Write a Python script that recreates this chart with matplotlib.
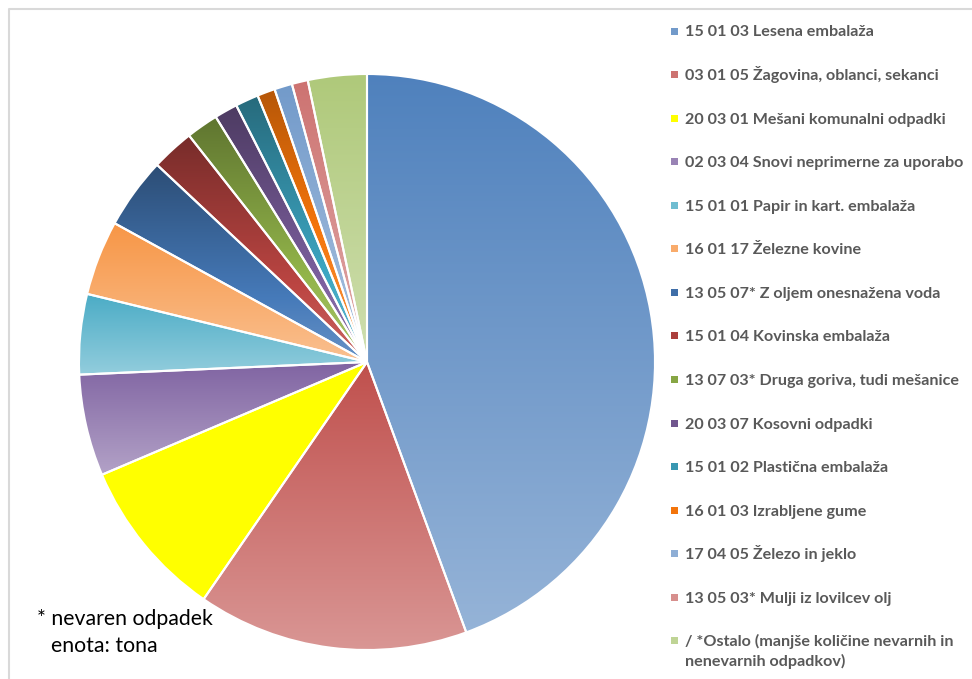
import colorsys
import numpy as np
import matplotlib.pyplot as plt
from matplotlib.colors import to_rgb
from matplotlib.patches import Rectangle
from matplotlib.lines import Line2D

W, H = 972, 679

labels = [
    "15 01 03 Lesena embalaža",
    "03 01 05 Žagovina, oblanci, sekanci",
    "20 03 01 Mešani komunalni odpadki",
    "02 03 04 Snovi neprimerne za uporabo",
    "15 01 01 Papir in kart. embalaža",
    "16 01 17 Železne kovine",
    "13 05 07* Z oljem onesnažena voda",
    "15 01 04 Kovinska embalaža",
    "13 07 03* Druga goriva, tudi mešanice",
    "20 03 07 Kosovni odpadki",
    "15 01 02 Plastična embalaža",
    "16 01 03 Izrabljene gume",
    "17 04 05 Železo in jeklo",
    "13 05 03* Mulji iz lovilcev olj",
    "/ *Ostalo (manjše količine nevarnih in\nnenevarnih odpadkov)",
]
values = [44.4, 15.2, 9.0, 5.7, 4.5, 4.2, 4.0, 2.4, 1.8, 1.3, 1.3, 1.0, 1.0, 0.9, 3.3]
colors = ["#4F81BD", "#C0504D", "#FFFF00", "#8064A2", "#4BACC6", "#F79646",
          "#2C4D75", "#772C2A", "#5F7530", "#4D3B62", "#276A7C", "#B65708",
          "#729ACA", "#CD7371", "#AFC97A"]
flat = [False, False, True] + [False] * 12


def lighten(c, t):
    h, l, s = colorsys.rgb_to_hls(*to_rgb(c))
    return colorsys.hls_to_rgb(h, l + t * (1 - l), s)


def gradient(c, solid, n=256):
    if solid:
        return np.tile(np.array(to_rgb(c)), (n, 1, 1))
    rows = [lighten(c, 0.4 * k / (n - 1)) for k in range(n)]
    return np.array(rows).reshape(n, 1, 3)


fig = plt.figure(figsize=(W / 100, H / 100), dpi=100)
ax = fig.add_axes([79 / W, 1 - 650 / H, 576 / W, 576 / H])

wedges, _ = ax.pie(values, colors=colors, startangle=90, counterclock=False,
                   wedgeprops=dict(edgecolor="white", linewidth=1.5))

# vertical gradient inside each slice, light towards the bottom
for w, c, s in zip(wedges, colors, flat):
    path = w.get_path().transformed(w.get_patch_transform())
    bb = path.get_extents()
    im = ax.imshow(gradient(c, s), extent=(bb.x0, bb.x1, bb.y0, bb.y1),
                   origin="upper", aspect="auto", interpolation="bilinear",
                   zorder=1)
    im.set_clip_path(w)
    w.set_facecolor("none")
    w.set_zorder(2)

ax.set_xlim(-1, 1)
ax.set_ylim(-1, 1)
ax.set_aspect("equal")
ax.axis("off")

# legend on the right
font = ["Lato", "DejaVu Sans"]
for i, (lab, c, s) in enumerate(zip(labels, colors, flat)):
    yc = 31 + i * 43.57
    mc = c if s else lighten(c, 0.2)
    fig.patches.append(Rectangle((671 / W, 1 - (yc + 3.5) / H), 7 / W, 7 / H,
                                 transform=fig.transFigure, facecolor=mc,
                                 edgecolor="none"))
    for k, line in enumerate(lab.split("\n")):
        fig.text(685 / W, 1 - (yc + 5.5 + 20 * k) / H, line, family=font,
                 weight="bold", fontsize=11.6, color="#595959",
                 ha="left", va="baseline")

fig.text(37 / W, 1 - 625 / H, "* nevaren odpadek", family=font, fontsize=15.3,
         color="black", ha="left", va="baseline")
fig.text(51 / W, 1 - 652 / H, "enota: tona", family=font, fontsize=15.3,
         color="black", ha="left", va="baseline")

# chart area border
fig.add_artist(Line2D([9 / W, 9 / W, 1], [0, 1 - 9 / H, 1 - 9 / H],
                      transform=fig.transFigure, color="#D9D9D9", lw=1.5))

fig.savefig("out.png", dpi=100)
